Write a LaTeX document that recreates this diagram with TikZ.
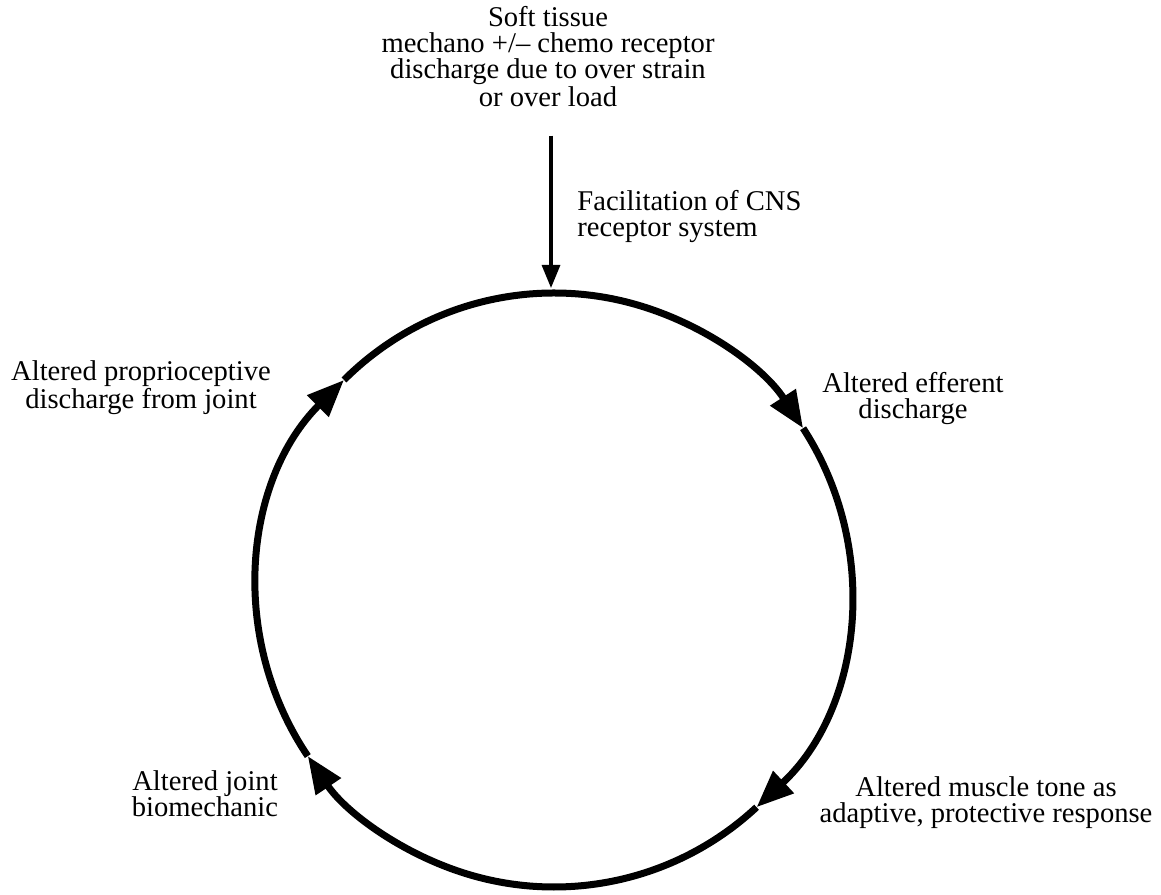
\documentclass[tikz,border=0pt]{standalone}
\usepackage{fontspec}
\setmainfont{Liberation Serif}
\usetikzlibrary{arrows.meta,calc}

\begin{document}
\begin{tikzpicture}[x=0.5pt, y=0.5pt,
    lbl/.style={font=\fontsize{14.3}{13}\selectfont, align=center, inner sep=0pt, anchor=base},
    ring/.style={line width=3.5pt, -{Triangle[length=18.5pt, width=14.5pt]}},
    feed/.style={line width=1.6pt, -{Triangle[length=11.5pt, width=9pt]}}]
    \useasboundingbox (0,0) rectangle (1161,894);
    % the cycle: four clockwise arcs, each ending in a head
    \coordinate (cyc) at (554,304);
    \foreach \a/\b in {135/33, 33/-47, -47/-146, -146/-225} {
        \draw[ring] ($(cyc)+(\a:297)$) arc[start angle=\a, end angle=\b, radius=297];
    }
    \coordinate (ctop) at (551,606);
    % labels (anchored at the baseline of their last line)
    \node[lbl] (src) at (548,787) {Soft tissue\\mechano +/-- chemo receptor\\discharge due to over strain\\or over load};
    \node[lbl, align=left, anchor=base west] (fac) at (577,657) {Facilitation of CNS\\receptor system};
    \node[lbl] (eff) at (913,475) {Altered efferent\\discharge};
    \node[lbl] (mus) at (986,72) {Altered muscle tone as\\adaptive, protective response};
    \node[lbl] (jnt) at (205,78) {Altered joint\\biomechanic};
    \node[lbl] (prop) at (141,485) {Altered proprioceptive\\discharge from joint};
    % input arrow onto the cycle
    \draw[feed, shorten <=14pt] (ctop |- src.south) -- (ctop);
\end{tikzpicture}
\end{document}
